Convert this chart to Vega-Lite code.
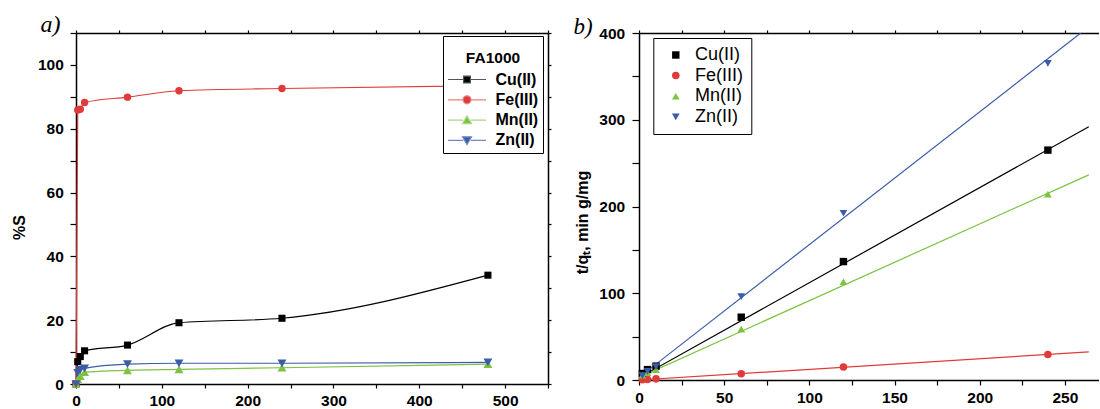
{
  "$schema": "https://vega.github.io/schema/vega-lite/v6.json",
  "padding": {"left": 11, "top": 12, "right": 0, "bottom": 0},
  "background": "white",
  "spacing": 21,
  "resolve": {
    "scale": {"color": "independent", "shape": "independent", "fill": "independent", "stroke": "independent", "size": "independent"},
    "legend": {"color": "independent", "shape": "independent", "fill": "independent", "stroke": "independent", "size": "independent"}
  },
  "config": {
    "font": "Liberation Sans",
    "view": {"stroke": null},
    "axis": {
      "labelFont": "Liberation Sans", "labelFontWeight": "bold", "labelFontSize": 15.5, "labelColor": "black",
      "titleFont": "Liberation Sans", "titleFontWeight": "bold", "titleFontSize": 16, "titleColor": "black",
      "domainColor": "black", "domainWidth": 1.5, "tickColor": "black", "tickWidth": 1.2, "grid": false, "labelFlush": false, "labelOverlap": false
    }
  },
  "datasets": {
    "kin": [
      {"series": "Cu(II)", "t": 0, "S": 0}, {"series": "Cu(II)", "t": 2, "S": 7.0}, {"series": "Cu(II)", "t": 5, "S": 8.6}, {"series": "Cu(II)", "t": 10, "S": 10.4},
      {"series": "Cu(II)", "t": 60, "S": 12.2}, {"series": "Cu(II)", "t": 120, "S": 19.2}, {"series": "Cu(II)", "t": 240, "S": 20.6}, {"series": "Cu(II)", "t": 480, "S": 34.1},
      {"series": "Fe(III)", "t": 0, "S": 0}, {"series": "Fe(III)", "t": 2, "S": 85.9}, {"series": "Fe(III)", "t": 5, "S": 86.1}, {"series": "Fe(III)", "t": 10, "S": 88.2},
      {"series": "Fe(III)", "t": 60, "S": 89.9}, {"series": "Fe(III)", "t": 120, "S": 91.9}, {"series": "Fe(III)", "t": 240, "S": 92.6}, {"series": "Fe(III)", "t": 480, "S": 93.5},
      {"series": "Mn(II)", "t": 0, "S": 0}, {"series": "Mn(II)", "t": 2, "S": 1.5}, {"series": "Mn(II)", "t": 5, "S": 2.5}, {"series": "Mn(II)", "t": 10, "S": 3.7},
      {"series": "Mn(II)", "t": 60, "S": 4.3}, {"series": "Mn(II)", "t": 120, "S": 4.6}, {"series": "Mn(II)", "t": 240, "S": 5.1}, {"series": "Mn(II)", "t": 480, "S": 6.2},
      {"series": "Zn(II)", "t": 0, "S": 0}, {"series": "Zn(II)", "t": 2, "S": 3.5}, {"series": "Zn(II)", "t": 5, "S": 4.4}, {"series": "Zn(II)", "t": 10, "S": 4.9},
      {"series": "Zn(II)", "t": 60, "S": 6.2}, {"series": "Zn(II)", "t": 120, "S": 6.5}, {"series": "Zn(II)", "t": 240, "S": 6.5}, {"series": "Zn(II)", "t": 480, "S": 6.8}
    ],
    "pso": [
      {"series": "Cu(II)", "t": 2, "tq": 7.5}, {"series": "Cu(II)", "t": 5, "tq": 12.0}, {"series": "Cu(II)", "t": 10, "tq": 16.0},
      {"series": "Cu(II)", "t": 60, "tq": 72.4}, {"series": "Cu(II)", "t": 120, "tq": 136.5}, {"series": "Cu(II)", "t": 240, "tq": 265},
      {"series": "Fe(III)", "t": 2, "tq": 0.4}, {"series": "Fe(III)", "t": 5, "tq": 0.7}, {"series": "Fe(III)", "t": 10, "tq": 1.3},
      {"series": "Fe(III)", "t": 60, "tq": 7.2}, {"series": "Fe(III)", "t": 120, "tq": 14.9}, {"series": "Fe(III)", "t": 240, "tq": 29.4},
      {"series": "Mn(II)", "t": 2, "tq": 5.5}, {"series": "Mn(II)", "t": 5, "tq": 8.5}, {"series": "Mn(II)", "t": 10, "tq": 12.0},
      {"series": "Mn(II)", "t": 60, "tq": 58.7}, {"series": "Mn(II)", "t": 120, "tq": 113.3}, {"series": "Mn(II)", "t": 240, "tq": 214.3},
      {"series": "Zn(II)", "t": 2, "tq": 5.0}, {"series": "Zn(II)", "t": 5, "tq": 10.0}, {"series": "Zn(II)", "t": 10, "tq": 15.5},
      {"series": "Zn(II)", "t": 60, "tq": 96.1}, {"series": "Zn(II)", "t": 120, "tq": 192.2}, {"series": "Zn(II)", "t": 240, "tq": 365}
    ],
    "fit": [
      {"series": "Cu(II)", "t": 0, "tq": 2.5}, {"series": "Cu(II)", "t": 264, "tq": 292},
      {"series": "Fe(III)", "t": 2, "tq": 0.3}, {"series": "Fe(III)", "t": 264, "tq": 32.4},
      {"series": "Mn(II)", "t": 0, "tq": 3.0}, {"series": "Mn(II)", "t": 264, "tq": 236.5},
      {"series": "Zn(II)", "t": 0, "tq": 3.0}, {"series": "Zn(II)", "t": 259.3, "tq": 400}
    ]
  },
  "hconcat": [
    {
      "width": 472,
      "height": 351,
      "data": {"name": "kin"},
      "encoding": {
        "x": {"field": "t", "type": "quantitative", "scale": {"domain": [0, 550], "nice": false, "zero": false}, "axis": null},
        "y": {"field": "S", "type": "quantitative", "scale": {"domain": [0, 110], "nice": false}, "axis": null},
        "color": {"field": "series", "type": "nominal", "scale": {"domain": ["Cu(II)", "Fe(III)", "Mn(II)", "Zn(II)"], "range": ["#000000", "#e03a3a", "#7dc242", "#3b5ca8"]}, "legend": null}
      },
      "layer": [
        {
          "mark": {"type": "line", "interpolate": "monotone", "strokeWidth": 1.2},
          "encoding": {
            "x": {"field": "t", "type": "quantitative",
              "axis": {"orient": "bottom", "title": null, "values": [0, 50, 100, 150, 200, 250, 300, 350, 400, 450, 500, 550],
                "labelExpr": "datum.value % 100 === 0 ? datum.label : ''", "tickSize": 4, "labelPadding": 5}},
            "y": {"field": "S", "type": "quantitative",
              "axis": {"orient": "left", "title": "%S", "values": [0, 10, 20, 30, 40, 50, 60, 70, 80, 90, 100, 110],
                "labelExpr": "datum.value % 20 === 0 ? datum.label : ''", "tickSize": 6, "labelPadding": 6.7, "titlePadding": 9.5, "titleY": 194}}
          }
        },
        {
          "transform": [{"filter": "datum.series === 'Cu(II)'"}],
          "mark": {"type": "square", "size": 50, "opacity": 1},
          "encoding": {
            "x": {"field": "t", "type": "quantitative",
              "axis": {"orient": "top", "labels": false, "values": [0, 50, 100, 150, 200, 250, 300, 350, 400, 450, 500, 550], "tickSize": 3,
                "title": "a)", "titleX": -36, "titleY": -1.7, "titleAngle": 0, "titleAlign": "left", "titleBaseline": "alphabetic",
                "titleFont": "Liberation Serif", "titleFontStyle": "italic", "titleFontWeight": "normal", "titleFontSize": 24}},
            "y": {"field": "S", "type": "quantitative",
              "axis": {"orient": "right", "title": null, "labels": false, "values": [0, 10, 20, 30, 40, 50, 60, 70, 80, 90, 100, 110], "tickSize": 3}}
          }
        },
        {
          "transform": [{"filter": "datum.series === 'Fe(III)'"}],
          "mark": {"type": "circle", "size": 55, "opacity": 1}
        },
        {
          "transform": [{"filter": "datum.series === 'Mn(II)'"}],
          "mark": {"type": "point", "shape": "triangle-up", "filled": true, "size": 80, "opacity": 1}
        },
        {
          "transform": [{"filter": "datum.series === 'Zn(II)'"}],
          "mark": {"type": "point", "shape": "triangle-down", "filled": true, "size": 80, "opacity": 1}
        },
        {
          "transform": [{"filter": "datum.t === 480"}],
          "mark": {"type": "point", "filled": true, "opacity": 0},
          "encoding": {
            "color": {"value": "transparent"},
            "fill": {"field": "series", "type": "nominal", "scale": {"domain": ["Cu(II)", "Fe(III)", "Mn(II)", "Zn(II)"], "range": ["#000000", "#e03a3a", "#7dc242", "#3b5ca8"]},
              "legend": {"orient": "none", "legendX": 367, "legendY": 3, "title": "FA1000", "titleLineHeight": 37, "titleBaseline": "line-top",
                "titleAnchor": "middle", "titleAlign": "center", "titleFontSize": 15.5, "titleFontWeight": "bold", "titleFont": "Liberation Sans", "titleColor": "black", "titlePadding": 16,
                "labelFontSize": 16, "labelFontWeight": "bold", "labelColor": "black", "labelFont": "Liberation Sans",
                "symbolSize": 1444, "symbolStrokeWidth": 1.2, "symbolOpacity": 1, "labelOffset": 8.5, "padding": 4,
                "strokeColor": "black", "fillColor": "white", "clipHeight": 16, "rowPadding": 4.3}},
            "stroke": {"field": "series", "type": "nominal", "scale": {"domain": ["Cu(II)", "Fe(III)", "Mn(II)", "Zn(II)"], "range": ["#555555", "#e88080", "#a8d888", "#7088c4"]},
              "legend": {"orient": "none", "legendX": 367, "legendY": 3, "title": "FA1000", "titleLineHeight": 37, "titleBaseline": "line-top",
                "titleAnchor": "middle", "titleAlign": "center", "titleFontSize": 15.5, "titleFontWeight": "bold", "titleFont": "Liberation Sans", "titleColor": "black", "titlePadding": 16,
                "labelFontSize": 16, "labelFontWeight": "bold", "labelColor": "black", "labelFont": "Liberation Sans",
                "symbolSize": 1444, "symbolStrokeWidth": 1.2, "symbolOpacity": 1, "labelOffset": 8.5, "padding": 4,
                "strokeColor": "black", "fillColor": "white", "clipHeight": 16, "rowPadding": 4.3}},
            "shape": {"field": "series", "type": "nominal",
              "scale": {"domain": ["Cu(II)", "Fe(III)", "Mn(II)", "Zn(II)"],
                "range": ["M-1,0H-0.18M0.18,0H1M-0.18,-0.18H0.18V0.18H-0.18Z",
                  "M-1,0H-0.21M0.21,0H1M-0.21,0A0.21,0.21,0,1,1,0.21,0A0.21,0.21,0,1,1,-0.21,0Z",
                  "M-1,0H-0.2M0.2,0H1M-0.24,0.19L0,-0.22L0.24,0.19Z",
                  "M-1,0H-0.2M0.2,0H1M-0.24,-0.19L0,0.22L0.24,-0.19Z"]},
              "legend": {"orient": "none", "legendX": 367, "legendY": 3, "title": "FA1000", "titleLineHeight": 37, "titleBaseline": "line-top",
                "titleAnchor": "middle", "titleAlign": "center", "titleFontSize": 15.5, "titleFontWeight": "bold", "titleFont": "Liberation Sans", "titleColor": "black", "titlePadding": 16,
                "labelFontSize": 16, "labelFontWeight": "bold", "labelColor": "black", "labelFont": "Liberation Sans",
                "symbolSize": 1444, "symbolStrokeWidth": 1.2, "symbolOpacity": 1, "labelOffset": 8.5, "padding": 4,
                "strokeColor": "black", "fillColor": "white", "clipHeight": 16, "rowPadding": 4.3}}
          }
        }
      ],
      "resolve": {
        "axis": {"x": "independent", "y": "independent"},
        "scale": {"fill": "independent", "stroke": "independent", "shape": "independent"},
        "legend": {"fill": "independent", "stroke": "independent", "shape": "independent"}
      }
    },
    {
      "width": 460,
      "height": 347,
      "layer": [
        {
          "data": {"name": "fit"},
          "mark": {"type": "line", "strokeWidth": 1.2, "clip": true},
          "encoding": {
            "x": {"field": "t", "type": "quantitative", "scale": {"domain": [0, 270], "nice": false, "zero": false},
              "axis": {"orient": "top", "labels": false, "values": [0, 25, 50, 75, 100, 125, 150, 175, 200, 225, 250], "tickSize": 3,
                "title": "b)", "titleX": -66, "titleY": 0.6, "titleAngle": 0, "titleAlign": "left", "titleBaseline": "alphabetic",
                "titleFont": "Liberation Serif", "titleFontStyle": "italic", "titleFontWeight": "normal", "titleFontSize": 23}},
            "y": {"field": "tq", "type": "quantitative", "scale": {"domain": [0, 400], "nice": false}, "axis": null},
            "stroke": {"field": "series", "type": "nominal", "scale": {"domain": ["Cu(II)", "Fe(III)", "Mn(II)", "Zn(II)"], "range": ["#000000", "#e03a3a", "#7dc242", "#3b5ca8"]}, "legend": null}
          }
        },
        {
          "data": {"name": "pso"},
          "mark": {"type": "point", "filled": true, "opacity": 1},
          "encoding": {
            "x": {"field": "t", "type": "quantitative", "scale": {"domain": [0, 270], "nice": false, "zero": false},
              "axis": {"orient": "bottom", "title": null, "values": [0, 25, 50, 75, 100, 125, 150, 175, 200, 225, 250],
                "labelExpr": "datum.value % 50 === 0 ? datum.label : ''", "tickSize": 5, "labelPadding": 5.4}},
            "y": {"field": "tq", "type": "quantitative", "scale": {"domain": [0, 400], "nice": false},
              "axis": {"orient": "left", "title": "t/qₜ, min g/mg", "values": [0, 50, 100, 150, 200, 250, 300, 350, 400],
                "labelExpr": "datum.value % 100 === 0 ? datum.label : ''", "tickSize": 7, "labelPadding": 7.3, "titlePadding": 8, "titleY": 189}},
            "size": {"field": "series", "type": "nominal", "scale": {"domain": ["Cu(II)", "Fe(III)", "Mn(II)", "Zn(II)"], "range": [55, 60, 95, 95]}, "legend": null},
            "color": {"field": "series", "type": "nominal", "scale": {"domain": ["Cu(II)", "Fe(III)", "Mn(II)", "Zn(II)"], "range": ["#000000", "#e03a3a", "#7dc242", "#3b5ca8"]},
              "legend": {"orient": "none", "legendX": 14.3, "legendY": 5, "title": null, "labelFontSize": 18, "labelFontWeight": "normal", "labelColor": "black", "labelFont": "Liberation Sans",
                "symbolSize": 60, "symbolOffset": 5.5, "labelOffset": 10.3, "padding": 8, "strokeColor": "black", "fillColor": "white", "rowPadding": 2.6, "symbolStrokeWidth": 0}},
            "shape": {"field": "series", "type": "nominal", "scale": {"domain": ["Cu(II)", "Fe(III)", "Mn(II)", "Zn(II)"], "range": ["square", "circle", "triangle-up", "triangle-down"]},
              "legend": {"orient": "none", "legendX": 14.3, "legendY": 5, "title": null, "labelFontSize": 18, "labelFontWeight": "normal", "labelColor": "black", "labelFont": "Liberation Sans",
                "symbolSize": 60, "symbolOffset": 5.5, "labelOffset": 10.3, "padding": 8, "strokeColor": "black", "fillColor": "white", "rowPadding": 2.6, "symbolStrokeWidth": 0}}
          }
        }
      ],
      "resolve": {
        "axis": {"x": "independent", "y": "independent"},
        "scale": {"color": "independent", "shape": "independent", "size": "independent", "stroke": "independent"},
        "legend": {"color": "independent", "shape": "independent", "size": "independent", "stroke": "independent"}
      }
    }
  ]
}
